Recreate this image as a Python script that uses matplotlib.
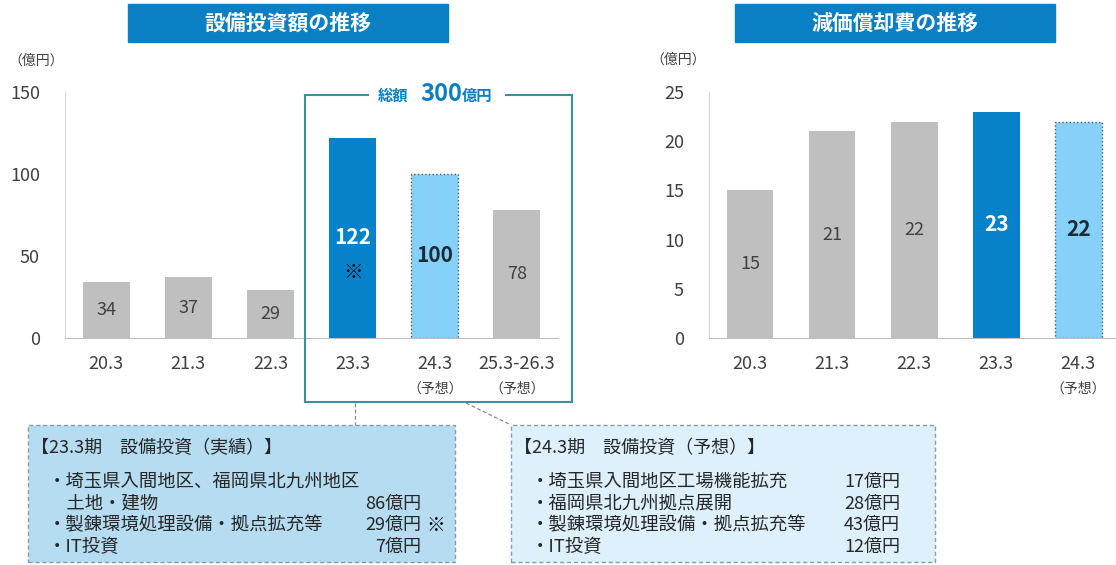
import matplotlib
matplotlib.use("Agg")
import matplotlib.pyplot as plt
from matplotlib.patches import Rectangle
from matplotlib.lines import Line2D

plt.rcParams['font.family'] = ['Noto Sans CJK JP', 'DejaVu Sans']

# 設備投資額
capex_cats = ['20.3', '21.3', '22.3', '23.3', '24.3', '25.3-26.3']
capex_vals = [34, 37, 29, 122, 100, 78]
capex_kind = ['past', 'past', 'past', 'actual', 'plan', 'past']
capex_plan = [False, False, False, False, True, True]

# 減価償却費
dep_cats = ['20.3', '21.3', '22.3', '23.3', '24.3']
dep_vals = [15, 21, 22, 23, 22]
dep_kind = ['past', 'past', 'past', 'actual', 'plan']
dep_plan = [False, False, False, False, True]

# 内訳
box23_title = '【23.3期　設備投資（実績）】'
box23_items = ['・埼玉県入間地区、福岡県北九州地区', '　土地・建物', '・製錬環境処理設備・拠点拡充等', '・IT投資']
box23_amts = ['', '86億円', '29億円', '7億円']
box24_title = '【24.3期　設備投資（予想）】'
box24_items = ['・埼玉県入間地区工場機能拡充', '・福岡県北九州拠点展開', '・製錬環境処理設備・拠点拡充等', '・IT投資']
box24_amts = ['17億円', '28億円', '43億円', '12億円']

GRAY = '#bfbfbf'
BLUE = '#0582c9'
LIGHT = '#86d1fa'
HEAD = '#0a7fc4'
TEAL = '#3f8e9c'
TXT = '#404040'

W, H = 1116, 565
fig = plt.figure(figsize=(W / 100, H / 100), dpi=100)


def fx(px):
    return px / W


def fy(py):
    return 1 - py / H


def pax(x0, y0, x1, y1):
    return fig.add_axes([fx(x0), fy(y1), fx(x1) - fx(x0), fy(y0) - fy(y1)])


def bar_chart(ax, cats, vals, kinds, plan, ymax, step, xmax):
    fills = {'past': GRAY, 'actual': BLUE, 'plan': LIGHT}
    for i, (v, k) in enumerate(zip(vals, kinds)):
        if k == 'plan':
            ax.bar(i, v, width=0.57, color=fills[k], edgecolor='#4a5a66',
                   linestyle=':', linewidth=1.0)
        else:
            ax.bar(i, v, width=0.57, color=fills[k], linewidth=0)
        if k == 'past':
            ax.text(i, v / 2, str(v), ha='center', va='center', fontsize=13, color=TXT)
        elif k == 'actual':
            ax.text(i, v / 2, str(v), ha='center', va='center', fontsize=15,
                    color='white', fontweight='bold')
        else:
            ax.text(i, v / 2, str(v), ha='center', va='center', fontsize=15,
                    color='#1c2a36', fontweight='bold')
    ax.set_xlim(-0.5, xmax)
    ax.set_ylim(0, ymax)
    ax.set_yticks(range(0, ymax + 1, step))
    ax.set_xticks(range(len(cats)))
    ax.set_xticklabels(cats)
    ax.tick_params(axis='both', length=0, labelsize=13, labelcolor=TXT)
    ax.tick_params(axis='x', pad=12)
    ax.tick_params(axis='y', pad=18)
    for s in ['top', 'right']:
        ax.spines[s].set_visible(False)
    ax.spines['left'].set_color('#d9d9d9')
    ax.spines['bottom'].set_color('#bfbfbf')
    for i, p in enumerate(plan):
        if p:
            ax.text(i, -0.205, '（予想）', transform=ax.get_xaxis_transform(),
                    ha='center', va='center', fontsize=10, color=TXT)


def header(x0, x1, text):
    fig.patches.append(Rectangle((fx(x0), fy(42)), fx(x1) - fx(x0), fy(4) - fy(42),
                                 transform=fig.transFigure, color=HEAD))
    fig.text(fx((x0 + x1) / 2), fy(23), text, ha='center', va='center',
             fontsize=15, color='white', fontweight='bold')


ax1 = pax(65, 92, 558, 338)
bar_chart(ax1, capex_cats, capex_vals, capex_kind, capex_plan, 150, 50, 5.5)
ax1.text(3, capex_vals[3] / 2 - 21, '※', ha='center', va='center', fontsize=14, color='black')

ax2 = pax(709, 92, 1116, 338)
bar_chart(ax2, dep_cats, dep_vals, dep_kind, dep_plan, 25, 5, 4.46)

header(128, 448, '設備投資額の推移')
header(735, 1055, '減価償却費の推移')
fig.text(fx(8), fy(61), '（億円）', ha='left', va='center', fontsize=10, color=TXT)
fig.text(fx(650), fy(60), '（億円）', ha='left', va='center', fontsize=10, color=TXT)

# 総額の枠
segs = [((305, 95), (305, 402)), ((305, 402), (572, 402)), ((572, 402), (572, 95)),
        ((305, 95), (368, 95)), ((506, 95), (572, 95))]
for (a, b) in segs:
    fig.add_artist(Line2D([fx(a[0]), fx(b[0])], [fy(a[1]), fy(b[1])],
                          transform=fig.transFigure, color=TEAL, linewidth=1.5))
fig.text(fx(378), fy(96), '総額', ha='left', va='center', fontsize=11,
         color=HEAD, fontweight='bold')
fig.text(fx(420), fy(94), '300', ha='left', va='center', fontsize=17,
         color=HEAD, fontweight='bold')
fig.text(fx(462), fy(96), '億円', ha='left', va='center', fontsize=11,
         color=HEAD, fontweight='bold')

# 引出線
fig.add_artist(Line2D([fx(355), fx(355)], [fy(403), fy(425)], transform=fig.transFigure,
                      color='#8a8a8a', linewidth=0.9, linestyle=(0, (3, 2))))
fig.add_artist(Line2D([fx(466), fx(511)], [fy(403), fy(425)], transform=fig.transFigure,
                      color='#8a8a8a', linewidth=0.9, linestyle=(0, (3, 2))))


def detail_box(x0, x1, fill, title, items, amts, amt_x, mark=None):
    fig.patches.append(Rectangle((fx(x0), fy(562)), fx(x1) - fx(x0), fy(425) - fy(562),
                                 transform=fig.transFigure, facecolor=fill,
                                 edgecolor='#8c9aa5', linewidth=1.0, linestyle=(0, (3, 2))))
    fig.text(fx(x0 + 3), fy(448), title, ha='left', va='center', fontsize=13, color='#262626')
    for k, (it, am) in enumerate(zip(items, amts)):
        y = 482 + 21.7 * k
        fig.text(fx(x0 + 20), fy(y), it, ha='left', va='center', fontsize=13.2, color='#262626')
        if am:
            fig.text(fx(amt_x), fy(y), am, ha='right', va='center', fontsize=13, color='#262626')
    if mark is not None:
        fig.text(fx(amt_x + 5), fy(482 + 21.7 * mark), '※', ha='left', va='center',
                 fontsize=13.5, color='black')


detail_box(28, 455, '#b5dcf1', box23_title, box23_items, box23_amts, 421, mark=2)
detail_box(511, 935, '#ddf0fc', box24_title, box24_items, box24_amts, 900)

fig.savefig('out.png', dpi=100)
